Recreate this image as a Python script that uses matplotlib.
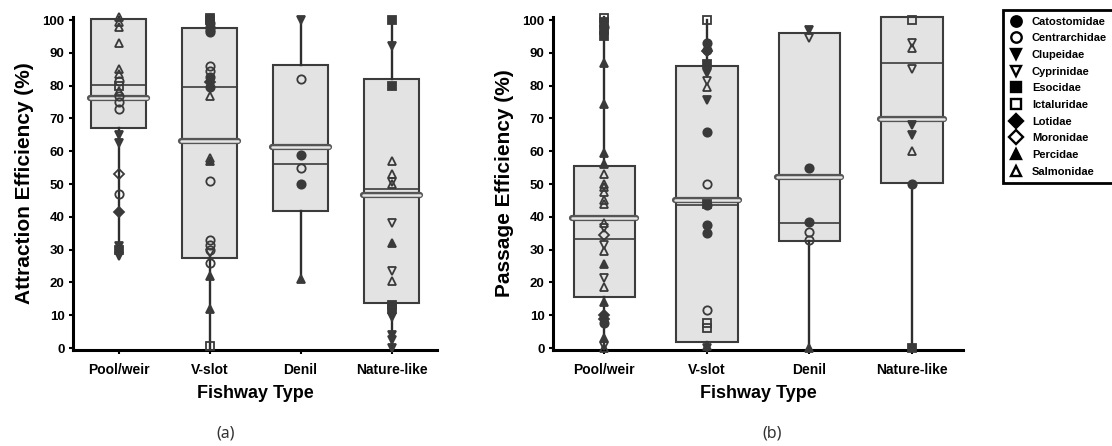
import matplotlib
matplotlib.use('Agg')
import matplotlib.pyplot as plt
import matplotlib.patheffects as pe
from matplotlib.lines import Line2D

plt.rcParams['font.family'] = ['Liberation Sans', 'DejaVu Sans']

# ---------------- data ----------------
categories = ['Pool/weir', 'V-slot', 'Denil', 'Nature-like']
families = ['Catostomidae', 'Centrarchidae', 'Clupeidae', 'Cyprinidae', 'Esocidae',
            'Ictaluridae', 'Lotidae', 'Moronidae', 'Percidae', 'Salmonidae']
fam_codes = ['Cat', 'Cen', 'Clu', 'Cyp', 'Eso', 'Ict', 'Lot', 'Mor', 'Per', 'Sal']

# panel (a) Attraction efficiency - box statistics
a_q1 = [67.0, 27.4, 41.7, 13.7]
a_q3 = [100.3, 97.7, 86.3, 82.0]
a_median = [80.1, 79.6, 56.2, 48.6]
a_mean = [76.3, 63.2, 61.4, 46.6]
a_whislo = [27.5, 0.0, 20.7, 0.0]
a_whishi = [101.0, 100.0, 100.0, 100.0]

# panel (a) individual points
a_pool_vals = [101, 99.5, 98, 93, 85, 83.5, 81.5, 80, 78.5, 77, 75, 73, 65, 62.5, 53, 47, 41.5, 31, 30, 28]
a_pool_fam = ['Sal', 'Sal', 'Sal', 'Sal', 'Sal', 'Sal', 'Cen', 'Ict', 'Sal', 'Cen', 'Cen', 'Cen',
              'Clu', 'Clu', 'Mor', 'Cen', 'Lot', 'Clu', 'Eso', 'Clu']
a_vslot_vals = [100.5, 100, 99, 98, 97, 96.5, 86, 84.5, 82.5, 81, 79.5, 77, 58, 57, 51,
                33, 31.5, 30, 29, 26, 22, 12, 0.5]
a_vslot_fam = ['Eso', 'Eso', 'Cat', 'Cat', 'Cat', 'Cat', 'Cen', 'Cen', 'Cat', 'Lot', 'Cat', 'Sal',
               'Sal', 'Per', 'Cen', 'Cen', 'Cen', 'Cen', 'Cyp', 'Cen', 'Per', 'Per', 'Ict']
a_denil_vals = [100, 82, 59, 55, 50, 21]
a_denil_fam = ['Clu', 'Cen', 'Cat', 'Cen', 'Cat', 'Per']
a_nature_vals = [100, 92, 80, 57, 53, 50.5, 50, 38, 32, 23.5, 20.5, 13, 12, 9.5, 4, 2.5, 0]
a_nature_fam = ['Eso', 'Clu', 'Eso', 'Sal', 'Sal', 'Cyp', 'Sal', 'Cyp', 'Per', 'Cyp', 'Sal',
                'Eso', 'Eso', 'Clu', 'Clu', 'Clu', 'Clu']

# panel (b) Passage efficiency - box statistics
b_q1 = [15.5, 1.8, 32.5, 50.2]
b_q3 = [55.4, 86.0, 96.0, 101.0]
b_median = [33.1, 43.5, 38.0, 86.8]
b_mean = [39.8, 45.0, 52.3, 69.8]
b_whislo = [0.0, 0.0, 0.0, 0.0]
b_whishi = [101.0, 100.0, 97.0, 101.0]

# panel (b) individual points
b_pool_vals = [100.5, 99.5, 98, 97, 95, 87, 74.5, 59.6, 56, 53, 50, 49, 47.5, 45, 44, 38, 36.5,
               34.5, 31.5, 29.5, 25.5, 21.5, 18.5, 14, 10, 9, 7.5, 3, 0.5, 0]
b_pool_fam = ['Ict', 'Eso', 'Cat', 'Eso', 'Eso', 'Per', 'Per', 'Per', 'Per', 'Sal', 'Sal', 'Sal',
              'Sal', 'Sal', 'Sal', 'Sal', 'Cyp', 'Mor', 'Cyp', 'Sal', 'Per', 'Cyp', 'Sal', 'Per',
              'Lot', 'Lot', 'Cat', 'Per', 'Cyp', 'Sal']
b_vslot_vals = [100, 93, 91, 90.5, 86.5, 84, 81.5, 79.5, 75.5, 66, 50, 44, 43.5, 37.5, 35,
                11.5, 7.6, 6, 0.5, 0]
b_vslot_fam = ['Ict', 'Cat', 'Cat', 'Lot', 'Eso', 'Clu', 'Cyp', 'Sal', 'Clu', 'Cat', 'Cen', 'Eso',
               'Cat', 'Cat', 'Cat', 'Cen', 'Ict', 'Ict', 'Per', 'Clu']
b_denil_vals = [97, 94.5, 55, 38.5, 35.5, 33, 0]
b_denil_fam = ['Clu', 'Cyp', 'Cat', 'Cat', 'Cen', 'Cen', 'Per']
b_nature_vals = [100, 93, 91.5, 85, 68, 65, 60, 50, 0]
b_nature_fam = ['Ict', 'Cyp', 'Sal', 'Cyp', 'Clu', 'Clu', 'Sal', 'Cat', 'Eso']

# ---------------- styles ----------------
marker_style = {
    'Cat': ('o', True), 'Cen': ('o', False), 'Clu': ('v', True), 'Cyp': ('v', False),
    'Eso': ('s', True), 'Ict': ('s', False), 'Lot': ('D', True), 'Mor': ('D', False),
    'Per': ('^', True), 'Sal': ('^', False),
}
PT_COLOR = '#3a3a3a'
BOX_FILL = '#e3e3e3'
BOX_EDGE = '#3c3c3c'

W, H = 1112, 446
fig = plt.figure(figsize=(W / 100, H / 100), dpi=100)

ax_bottom = 1 - 350 / H
ax_height = 333.2 / H
axa = fig.add_axes([73 / W, ax_bottom, (437 - 73) / W, ax_height])
axb = fig.add_axes([553 / W, ax_bottom, (963 - 553) / W, ax_height])


def draw_panel(ax, q1, q3, med, mean, wlo, whi, groups, ylabel):
    positions = [1, 2, 3, 4]
    stats = []
    for i, c in enumerate(categories):
        stats.append(dict(label=c, q1=q1[i], q3=q3[i], med=med[i], mean=mean[i],
                          whislo=wlo[i], whishi=whi[i]))
    bp = ax.bxp(stats, positions=positions, widths=0.6, patch_artist=True,
                showcaps=False, showfliers=False, showmeans=False,
                boxprops=dict(facecolor=BOX_FILL, edgecolor=BOX_EDGE, linewidth=1.5),
                whiskerprops=dict(color='#2e2e2e', linewidth=1.7),
                medianprops=dict(color=BOX_EDGE, linewidth=1.2))
    for art in bp['boxes'] + bp['whiskers'] + bp['medians']:
        art.set_clip_on(False)
    for p, m in zip(positions, mean):
        ax.plot([p - 0.31, p + 0.31], [m, m], color='#e6e6e6', lw=1.8,
                solid_capstyle='round', zorder=3, clip_on=False,
                path_effects=[pe.Stroke(linewidth=4.5, foreground='#555555'), pe.Normal()])
    for p, (vals, fams) in zip(positions, groups):
        for code in fam_codes:
            ys = [v for v, f in zip(vals, fams) if f == code]
            if not ys:
                continue
            mk, filled = marker_style[code]
            ax.plot([p] * len(ys), ys, ls='none', marker=mk, ms=6 if mk != 'D' else 5.2,
                    mec=PT_COLOR, mfc=PT_COLOR if filled else 'none', mew=1.3,
                    zorder=5, clip_on=False)
    ax.set_xlim(0.5, 4.5)
    ax.set_ylim(-0.6, 101)
    ax.set_yticks(range(0, 101, 10))
    ax.set_xticks(positions)
    ax.set_xticklabels(categories, fontsize=10, fontweight='bold')
    for lab in ax.get_yticklabels():
        lab.set_fontweight('bold')
        lab.set_fontsize(9.5)
    ax.spines['top'].set_visible(False)
    ax.spines['right'].set_visible(False)
    ax.spines['left'].set_linewidth(2.2)
    ax.spines['bottom'].set_linewidth(2.2)
    ax.tick_params(axis='both', direction='out', length=3, width=1.5, colors='black', pad=3)
    ax.tick_params(axis='x', pad=6)
    ax.set_xlabel('Fishway Type', fontsize=13, fontweight='bold', labelpad=6)
    ax.set_ylabel(ylabel, fontsize=15, fontweight='bold', labelpad=6)


draw_panel(axa, a_q1, a_q3, a_median, a_mean, a_whislo, a_whishi,
           [(a_pool_vals, a_pool_fam), (a_vslot_vals, a_vslot_fam),
            (a_denil_vals, a_denil_fam), (a_nature_vals, a_nature_fam)],
           'Attraction Efficiency (%)')
draw_panel(axb, b_q1, b_q3, b_median, b_mean, b_whislo, b_whishi,
           [(b_pool_vals, b_pool_fam), (b_vslot_vals, b_vslot_fam),
            (b_denil_vals, b_denil_fam), (b_nature_vals, b_nature_fam)],
           'Passage Efficiency (%)')

handles = []
for code in fam_codes:
    mk, filled = marker_style[code]
    handles.append(Line2D([], [], ls='none', marker=mk, ms=7.5 if mk != 'D' else 6.8,
                          mec='black', mfc='black' if filled else 'white', mew=1.7))
leg = fig.legend(handles, families, loc='upper left',
                 bbox_to_anchor=(1003 / W, 1 - 10 / H), frameon=True, fancybox=False,
                 edgecolor='black', framealpha=1, prop=dict(weight='bold', size=8),
                 labelspacing=0.6, handletextpad=0.9, borderpad=0.6, handlelength=1.1,
                 borderaxespad=0)
leg.get_frame().set_linewidth(2)

fig.text(226 / W, 1 - 433 / H, '(a)', ha='center', va='center', fontsize=11.5,
         family='Noto Sans', color='#333333')
fig.text(772 / W, 1 - 433 / H, '(b)', ha='center', va='center', fontsize=11.5,
         family='Noto Sans', color='#333333')

fig.savefig('out.png', dpi=100)
